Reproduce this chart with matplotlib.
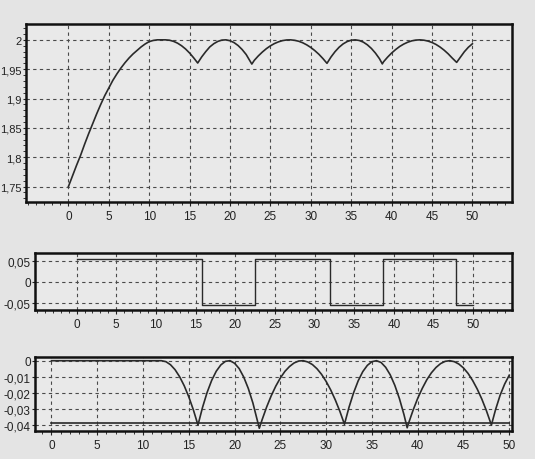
import matplotlib
matplotlib.use("Agg")
import matplotlib.pyplot as plt
from matplotlib.ticker import MultipleLocator

# ---------------- data ----------------
x_top = [0, 0.5, 1, 1.5, 2, 2.5, 3, 3.5, 4, 4.5, 5, 5.5, 6, 6.5, 7, 7.5, 8, 8.5, 9, 9.5, 10, 10.5, 11, 12,
         12.5, 13, 13.5, 14, 14.5, 15, 15.5, 16,
         16.5, 17, 17.5, 18, 18.5, 19, 19.5, 20, 20.5, 21, 21.5, 22, 22.7,
         23, 23.5, 24, 24.5, 25, 25.5, 26, 26.5, 27, 27.5, 28, 28.5, 29, 29.5, 30, 30.5, 31, 31.5, 32,
         32.5, 33, 33.5, 34, 34.5, 35, 35.5, 36, 36.5, 37, 37.5, 38, 38.5, 38.85,
         39, 39.5, 40, 40.5, 41, 41.5, 42, 42.5, 43, 43.5, 44, 44.5, 45, 45.5, 46, 46.5, 47, 47.5, 48.05,
         48.5, 49, 49.5, 50]
y_top = [1.750, 1.768, 1.786, 1.803, 1.822, 1.840, 1.857, 1.874, 1.890, 1.905, 1.918, 1.931, 1.942, 1.952,
         1.961, 1.969, 1.976, 1.982, 1.988, 1.993, 1.997, 1.999, 2.000, 2.000,
         1.9994, 1.9975, 1.9944, 1.990, 1.9844, 1.9775, 1.9694, 1.9605,
         1.971, 1.980, 1.988, 1.9935, 1.9974, 1.9996, 2.000, 1.9985, 1.9953, 1.9903, 1.9835, 1.975, 1.9587,
         1.965, 1.9726, 1.9792, 1.985, 1.9898, 1.9937, 1.9966, 1.9987, 1.9998, 2.000, 1.9992, 1.9976, 1.995,
         1.9914, 1.987, 1.9816, 1.9754, 1.9681, 1.960,
         1.9708, 1.9799, 1.9874, 1.9931, 1.9971, 1.9994, 2.000, 1.9989, 1.9961, 1.9915, 1.9853, 1.9774,
         1.9678, 1.959,
         1.9626, 1.9705, 1.9775, 1.9835, 1.9887, 1.9928, 1.996, 1.9983, 1.9996, 2.000, 1.9994, 1.9979,
         1.9955, 1.9921, 1.9877, 1.9824, 1.9762, 1.969, 1.9616,
         1.9702, 1.9797, 1.9874, 1.9933]

x_mid = [0, 15.8, 22.5, 31.9, 38.6, 47.9, 50]
y_mid = [0.054, -0.055, 0.054, -0.055, 0.054, -0.055, -0.055]

x_bot = [0, 12, 12.5, 13, 13.5, 14, 14.5, 15, 15.5, 16,
         16.5, 17, 17.5, 18, 18.5, 19, 19.5, 20, 20.5, 21, 21.5, 22, 22.7,
         23, 23.5, 24, 24.5, 25, 25.5, 26, 26.5, 27, 27.5, 28, 28.5, 29, 29.5, 30, 30.5, 31, 31.5, 32,
         32.5, 33, 33.5, 34, 34.5, 35, 35.5, 36, 36.5, 37, 37.5, 38, 38.5, 38.85,
         39, 39.5, 40, 40.5, 41, 41.5, 42, 42.5, 43, 43.5, 44, 44.5, 45, 45.5, 46, 46.5, 47, 47.5, 48.05,
         48.5, 49, 49.5, 50]
y_bot = [0.0, 0.0, -0.0006, -0.0025, -0.0056, -0.010, -0.0156, -0.0225, -0.0306, -0.040,
         -0.029, -0.0197, -0.0122, -0.0065, -0.0026, -0.0004, 0.0, -0.0016, -0.0049, -0.0102, -0.0173,
         -0.0263, -0.042,
         -0.0368, -0.0288, -0.0218, -0.0158, -0.0107, -0.0066, -0.0036, -0.0014, -0.0002, 0.0, -0.0008,
         -0.0024, -0.005, -0.0085, -0.0129, -0.0182, -0.0244, -0.0315, -0.0395,
         -0.0289, -0.0199, -0.0125, -0.0068, -0.0029, -0.0006, 0.0, -0.0011, -0.0041, -0.0088, -0.0153,
         -0.0235, -0.0335, -0.0417,
         -0.0389, -0.0307, -0.0234, -0.0172, -0.0118, -0.0075, -0.0042, -0.0018, -0.0004, 0.0, -0.0006,
         -0.0021, -0.0045, -0.0079, -0.0123, -0.0176, -0.0238, -0.031, -0.040,
         -0.0305, -0.0215, -0.0145, -0.0090]
x_ref = [0, 50]
y_ref = [-0.039, -0.039]

xticks = [0, 5, 10, 15, 20, 25, 30, 35, 40, 45, 50]
yticks_top = [1.75, 1.8, 1.85, 1.9, 1.95, 2.0]
ylabels_top = ["1,75", "1,8", "1,85", "1,9", "1,95", "2"]
yticks_mid = [-0.05, 0, 0.05]
ylabels_mid = ["-0,05", "0", "0,05"]
yticks_bot = [-0.04, -0.03, -0.02, -0.01, 0]
ylabels_bot = ["-0,04", "-0,03", "-0,02", "-0,01", "0"]

# ---------------- style ----------------
plt.rcParams['font.family'] = ['Liberation Sans', 'DejaVu Sans']
BG = "#e4e4e4"
PANEL = "#e9e9e9"
LINE = "#2a2a2a"
GRID = "#4a4a4a"

fig = plt.figure(figsize=(5.35, 4.6), dpi=100, facecolor=BG)
W, H = 535, 460


def make_ax(l, r, t, b):
    return fig.add_axes([l / W, (H - b) / H, (r - l) / W, (b - t) / H])


def style(ax, yticks, ylabels, xlim, ylim, yminor=None):
    ax.set_facecolor(PANEL)
    ax.set_xlim(*xlim)
    ax.set_ylim(*ylim)
    ax.set_xticks(xticks)
    ax.set_xticklabels([str(v) for v in xticks])
    ax.set_yticks(yticks)
    ax.set_yticklabels(ylabels)
    ax.xaxis.set_minor_locator(MultipleLocator(1))
    if yminor:
        ax.yaxis.set_minor_locator(MultipleLocator(yminor))
    ax.grid(True, which='major', linestyle=(0, (3, 3)), color=GRID, linewidth=0.8)
    ax.tick_params(axis='x', which='major', labelsize=8.5, colors="#222222", length=3, width=0.8, pad=3)
    ax.tick_params(axis='y', which='major', labelsize=8.5, colors="#222222", length=2, width=0.8, pad=1)
    ax.tick_params(axis='both', which='minor', length=2, width=0.7, colors="#333333")
    for s in ax.spines.values():
        s.set_linewidth(1.8)
        s.set_color("#111111")
    ax.set_axisbelow(True)


ax1 = make_ax(26, 512, 25, 203)
ax1.plot(x_top, y_top, color=LINE, linewidth=1.2)
style(ax1, yticks_top, ylabels_top, (-5.25, 54.9), (1.7237, 2.027), yminor=0.01)
ax1.tick_params(axis='y', which='major', labelsize=8)

ax2 = make_ax(35, 512, 254, 311)
ax2.step(x_mid, y_mid, where='post', color=LINE, linewidth=1.0)
style(ax2, yticks_mid, ylabels_mid, (-5.25, 54.9), (-0.067, 0.068))

ax3 = make_ax(35, 512, 358, 432)
ax3.plot(x_ref, y_ref, color=LINE, linewidth=1.2)
ax3.plot(x_bot, y_bot, color=LINE, linewidth=1.2)
style(ax3, yticks_bot, ylabels_bot, (-1.8, 50.3), (-0.0437, 0.0023))

fig.savefig("out.png", dpi=100, facecolor=BG)
